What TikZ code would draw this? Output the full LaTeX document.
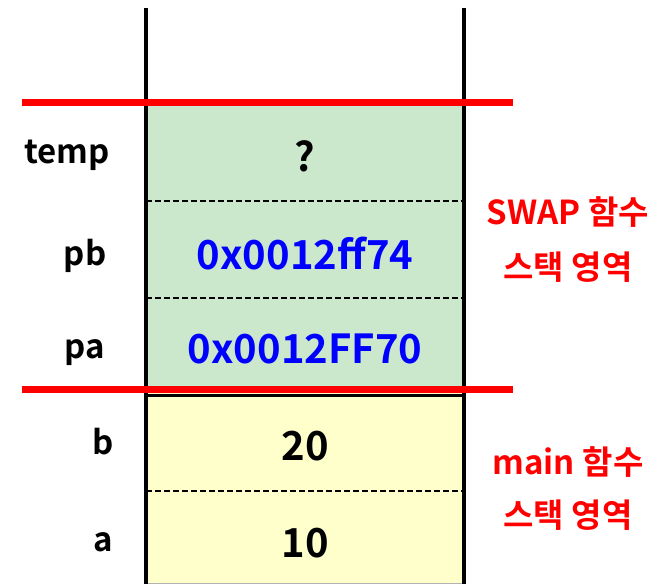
\documentclass[tikz,border=0pt]{standalone}
\usepackage{fontspec}
\setmainfont{Noto Sans CJK KR}[BoldFont={Noto Sans CJK KR Bold}]
\definecolor{swapgreen}{HTML}{CCE8CC}
\definecolor{mainyellow}{HTML}{FFFFCC}
\definecolor{addrblue}{HTML}{0000FF}
\definecolor{redline}{HTML}{FF0000}
\begin{document}
\begin{tikzpicture}[x=1pt,y=-1pt,
  wall/.style={line width=4.5pt,black},
  divider/.style={line width=1.8pt,black,dash pattern=on 6pt off 3pt},
  frame/.style={line width=7pt,redline},
  varname/.style={font=\bfseries\fontsize{33}{36}\selectfont,anchor=center,inner sep=0pt},
  cellval/.style={font=\bfseries\fontsize{40}{43}\selectfont,anchor=center,inner sep=0pt},
  addr/.style={cellval,text=addrblue},
  areanote/.style={font=\bfseries\fontsize{33}{36}\selectfont,text=redline,anchor=center,inner sep=0pt}]
\useasboundingbox (0,0) rectangle (669,584);
% fills
\fill[swapgreen] (146,102) rectangle (464,389);
\fill[mainyellow] (146,389) rectangle (464,584);
\draw[gray!60,line width=1pt] (146,583) -- (464,583);
\draw[black,line width=3pt] (146,395) -- (464,395);
% dividers
\coordinate (d1l) at (146,201); \coordinate (d1r) at (464,201);
\coordinate (d2l) at (146,298); \coordinate (d2r) at (464,298);
\coordinate (d3l) at (146,491); \coordinate (d3r) at (464,491);
\draw[divider] (d1l) -- (d1r);
\draw[divider] (d2l) -- (d2r);
\draw[divider] (d3l) -- (d3r);
% walls
\coordinate (wlt) at (146,8); \coordinate (wlb) at (146,584);
\coordinate (wrt) at (464,8); \coordinate (wrb) at (464,584);
\draw[wall] (wlt) -- (wlb);
\draw[wall] (wrt) -- (wrb);
% red frame lines
\coordinate (r1l) at (22,102); \coordinate (r1r) at (513,102);
\coordinate (r2l) at (22,389); \coordinate (r2r) at (513,389);
\draw[frame] (r1l) -- (r1r);
\draw[frame] (r2l) -- (r2r);
% names
\node[varname] (ntemp) at (67,155) {temp};
\node[varname] (npb) at (85,256) {pb};
\node[varname] (npa) at (85,353) {pa};
\node[varname] (nb) at (103,442) {b};
\node[varname] (na) at (103,542) {a};
% values
\node[cellval] (vtemp) at (305,156) {?};
\node[addr] (vpb) at (305,254) {0x0012ff74};
\node[addr] (vpa) at (305,349) {0x0012FF70};
\node[cellval] (vb) at (305,446) {20};
\node[cellval] (va) at (305,543) {10};
% area notes
\node[areanote] (s1) at (568,212) {SWAP 함수};
\node[areanote] (s2) at (568,267) {스택 영역};
\node[areanote] (m1) at (568,462) {main 함수};
\node[areanote] (m2) at (568,515) {스택 영역};
\end{tikzpicture}
\end{document}
